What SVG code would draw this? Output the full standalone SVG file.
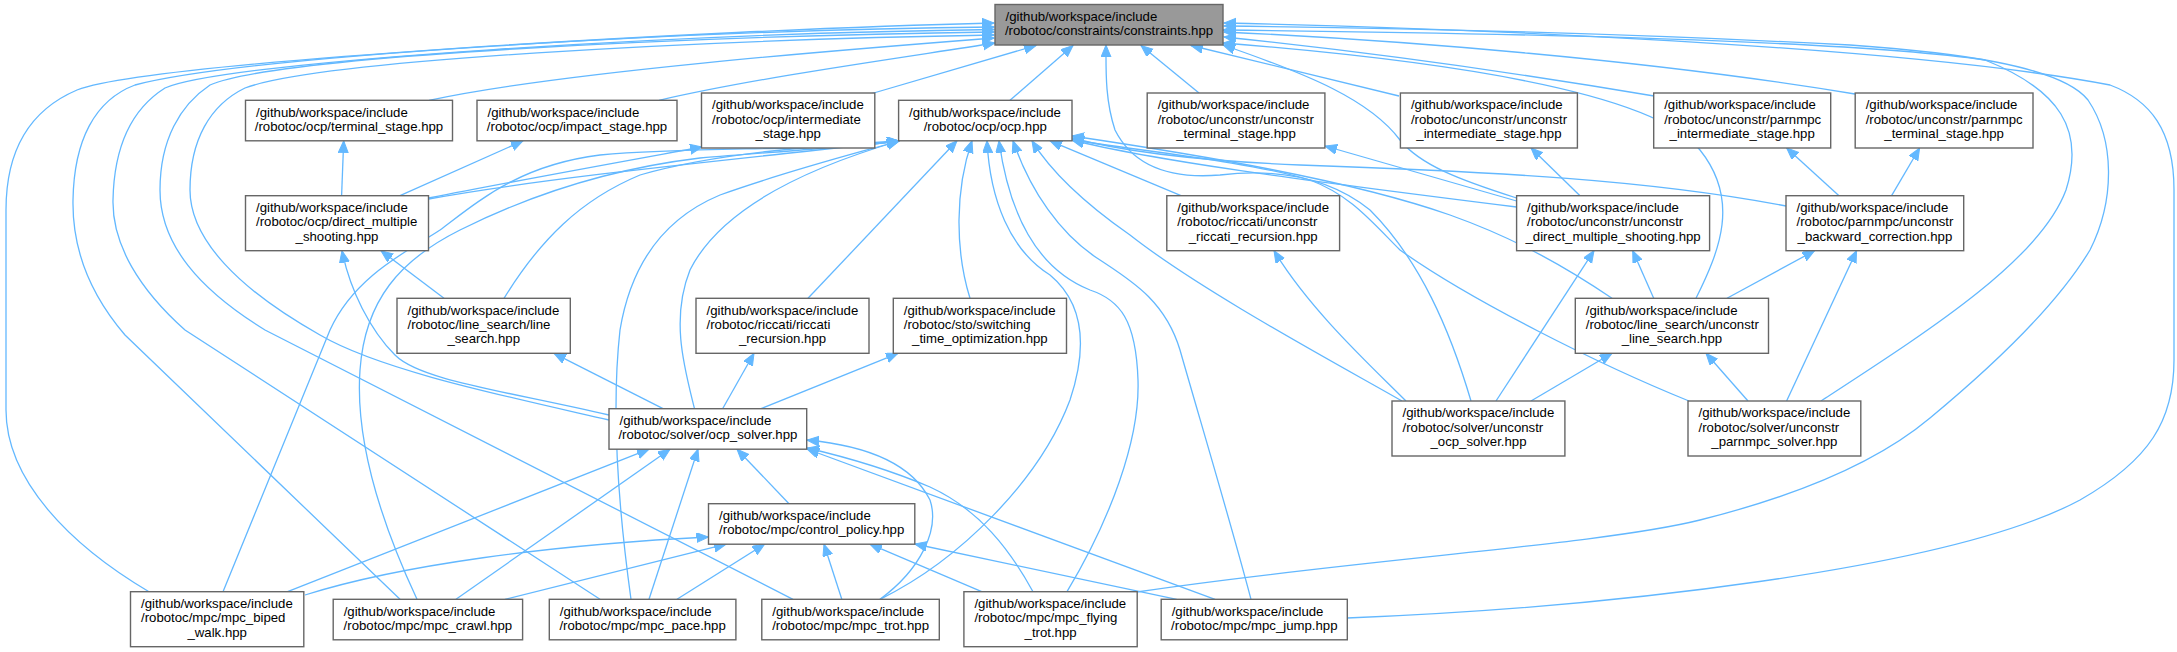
<svg xmlns="http://www.w3.org/2000/svg" width="2177" height="652" viewBox="0 0 2177 652">
<defs>
<marker id="a" markerUnits="userSpaceOnUse" markerWidth="14" markerHeight="12" refX="12" refY="5" orient="auto">
<path d="M0,0 L12,5 L0,10 Z" fill="#63b8ff" stroke="#63b8ff" stroke-width="1"/>
</marker>
<style>
.n rect{fill:#ffffff;stroke:#666666;stroke-width:1.4}
.r rect{fill:#999999;stroke:#666666;stroke-width:1.4}
text{font-family:"Liberation Sans",Arial,Helvetica,sans-serif;font-size:13.2px;fill:#000000}
.c{text-anchor:middle}
#edges path{fill:none;stroke:#63b8ff;stroke-width:1.3;marker-end:url(#a)}
</style>
</defs>
<rect width="2177" height="652" fill="#ffffff"/>
<g id="edges">
<path d="M429,100.3 C560,72 840,50 994,38"/>
<path d="M659,100.3 C760,77 900,58 995,43"/>
<path d="M872,93.5 L1036,45.5"/>
<path d="M1010,100.3 L1073,45.5"/>
<path d="M1199,93 L1141,45.5"/>
<path d="M1399,96 L1191,45.5"/>
<path d="M1654,96 C1500,70 1350,50 1224,37"/>
<path d="M1855,94 C1650,60 1400,40 1224,32"/>
<path d="M149,591.7 C70,545 6,480 6,410 L6,210 C6,150 30,110 77,90 C150,62 700,30 994,23"/>
<path d="M400,599.3 L125,335 C95,300 72,255 73,200 C74,140 95,100 135,85 C250,55 700,30 994,27"/>
<path d="M600,599.3 L185,330 C140,290 112,245 113,200 C114,150 130,110 165,88 C230,60 700,33 994,29.5"/>
<path d="M793,599.3 L265,330 C200,290 160,245 160,190 C160,140 180,105 210,85 C280,55 700,36 994,32"/>
<path d="M609,420 C500,395 380,370 320,335 C240,290 190,240 190,190 C190,140 210,105 245,88 C320,60 700,40 994,35"/>
<path d="M341.6,195.7 L343.7,140.8"/>
<path d="M400,195.7 L523,140.8"/>
<path d="M428.6,198 C520,180 620,162 702,147"/>
<path d="M428.6,199 C560,175 780,155 899,141"/>
<path d="M444,298.3 L381,250.7"/>
<path d="M504,298.3 C540,240 580,200 640,175 C720,152 820,146 899,141"/>
<path d="M808,298.3 L957,140.8"/>
<path d="M970,298.3 C955,250 955,190 972,140.8"/>
<path d="M609,415 C500,390 420,380 395,355 C370,330 350,290 342,250.7"/>
<path d="M663,408.7 L554,353.3"/>
<path d="M722.6,408.7 L754,353.3"/>
<path d="M761,408.7 L898,353.3"/>
<path d="M694.5,408.7 C685,370 670,320 690,270 C720,210 800,170 899,141"/>
<path d="M789,503.7 L737,449.2"/>
<path d="M287.6,591.7 L649,449.2"/>
<path d="M305,595 C400,565 550,545 708.5,537"/>
<path d="M223,591.7 L330,330 C355,275 410,250 440,230 C480,200 520,165 600,155 C700,146 820,152 899,141"/>
<path d="M417,599.3 C380,520 355,440 360,370 C365,300 400,260 460,230 C520,200 600,170 700,158 C800,150 860,146 899,141"/>
<path d="M456,599.3 L670,449.2"/>
<path d="M505,599.3 L726,544.2"/>
<path d="M631,599.3 C620,520 610,420 620,330 C630,270 660,220 720,195 C790,170 850,155 899,141"/>
<path d="M649,599.3 L698,449.2"/>
<path d="M677,599.3 L764.6,544.2"/>
<path d="M841.8,599.3 L824,544.2"/>
<path d="M880,599.3 C920,570 940,530 930,500 C910,460 860,445 807,440"/>
<path d="M880,599.3 C960,560 1040,480 1070,400 C1090,340 1080,300 1050,275 C1010,250 990,200 987,140.8"/>
<path d="M981.7,591.7 L870,544.2"/>
<path d="M1033,591.7 C1010,550 980,510 930,487 C890,470 850,458 807,448"/>
<path d="M1067,591.7 C1110,520 1140,440 1138,380 C1136,320 1120,300 1090,290 C1040,270 1010,220 999,140.8"/>
<path d="M1137,592 C1350,560 1600,545 1700,520 C1800,495 1880,460 1930,418 C2000,360 2060,300 2090,250 C2115,200 2115,140 2088,100 C2060,65 1950,52 1850,45 C1600,32 1400,28 1224,26"/>
<path d="M1176.7,599.3 L914.8,544"/>
<path d="M1215,599.3 L807,449"/>
<path d="M1251,599.3 C1230,520 1200,420 1180,350 C1165,300 1130,280 1100,260 C1060,235 1030,190 1013,140.8"/>
<path d="M1347,618 C1600,608 1950,570 2080,500 C2150,460 2174,420 2174,360 L2174,190 C2174,130 2150,100 2110,85 C1900,45 1450,28 1224,23"/>
<path d="M1516.6,201 L1325,146"/>
<path d="M1580,195.7 L1531,148"/>
<path d="M1516.6,198 C1460,180 1420,165 1400,140 C1370,100 1310,75 1223,45"/>
<path d="M1516.6,207 C1300,180 1150,160 1072,140"/>
<path d="M1839,195.7 L1786.6,148"/>
<path d="M1891.6,195.7 L1919.6,148"/>
<path d="M1786,206 C1650,180 1500,172 1300,165 C1180,160 1110,148 1072,138"/>
<path d="M1653.7,298.3 L1632.7,250.7"/>
<path d="M1727,298.3 L1814.6,250.7"/>
<path d="M1696,298.3 C1720,250 1740,200 1700,150 C1660,100 1500,65 1223,43"/>
<path d="M1612,298.3 C1570,270 1520,240 1450,215 C1350,180 1200,155 1072,136"/>
<path d="M1181,195.7 L1050,140.8"/>
<path d="M1402,401 C1330,360 1200,290 1130,235 C1080,200 1050,170 1032,140.8"/>
<path d="M1406,401 C1370,365 1310,310 1274,250.7"/>
<path d="M1471,401 C1450,330 1420,260 1370,210 C1330,178 1280,168 1220,175 C1160,180 1130,160 1115,130 C1105,100 1106,70 1106,45"/>
<path d="M1496,401 L1594,250.7"/>
<path d="M1531,401 L1612,353.3"/>
<path d="M1748,401 L1706,353.3"/>
<path d="M1786.6,401 L1856.6,250.7"/>
<path d="M1689,401 C1600,365 1470,300 1400,250 C1370,220 1350,195 1310,180 C1250,162 1150,152 1072,140"/>
<path d="M1821,401 C1930,330 2040,260 2066,190 C2085,130 2060,90 1985,60 C1850,40 1500,33 1223,30"/>
</g>
<g id="n_constraints" class="r"><rect x="995" y="4.5" width="228" height="40.5"/><text x="1005.5" y="20.8">/github/workspace/include</text><text class="c" x="1109" y="35.1">/robotoc/constraints/constraints.hpp</text></g>
<g id="n_terminal_stage" class="n"><rect x="245.5" y="100.3" width="207" height="40.5"/><text x="256" y="116.6">/github/workspace/include</text><text class="c" x="349" y="130.9">/robotoc/ocp/terminal_stage.hpp</text></g>
<g id="n_impact_stage" class="n"><rect x="477" y="100.3" width="200" height="40.5"/><text x="487.5" y="116.6">/github/workspace/include</text><text class="c" x="577" y="130.9">/robotoc/ocp/impact_stage.hpp</text></g>
<g id="n_intermediate_stage" class="n"><rect x="701.5" y="93" width="173.3" height="55"/><text x="712" y="109.4">/github/workspace/include</text><text x="712" y="123.7">/robotoc/ocp/intermediate</text><text class="c" x="788.2" y="138">_stage.hpp</text></g>
<g id="n_ocp" class="n"><rect x="898.6" y="100.3" width="173.4" height="40.5"/><text x="909.1" y="116.6">/github/workspace/include</text><text class="c" x="985.3" y="130.9">/robotoc/ocp/ocp.hpp</text></g>
<g id="n_unconstr_terminal_stage" class="n"><rect x="1147.2" y="93" width="177.7" height="55"/><text x="1157.7" y="109.4">/github/workspace/include</text><text x="1157.7" y="123.7">/robotoc/unconstr/unconstr</text><text class="c" x="1236" y="138">_terminal_stage.hpp</text></g>
<g id="n_unconstr_intermediate_stage" class="n"><rect x="1400.4" y="93" width="177" height="55"/><text x="1410.9" y="109.4">/github/workspace/include</text><text x="1410.9" y="123.7">/robotoc/unconstr/unconstr</text><text class="c" x="1488.9" y="138">_intermediate_stage.hpp</text></g>
<g id="n_parnmpc_intermediate_stage" class="n"><rect x="1653.7" y="93" width="177" height="55"/><text x="1664.2" y="109.4">/github/workspace/include</text><text x="1664.2" y="123.7">/robotoc/unconstr/parnmpc</text><text class="c" x="1742.2" y="138">_intermediate_stage.hpp</text></g>
<g id="n_parnmpc_terminal_stage" class="n"><rect x="1855.2" y="93" width="177.8" height="55"/><text x="1865.7" y="109.4">/github/workspace/include</text><text x="1865.7" y="123.7">/robotoc/unconstr/parnmpc</text><text class="c" x="1944.1" y="138">_terminal_stage.hpp</text></g>
<g id="n_direct_multiple_shooting" class="n"><rect x="245.5" y="195.7" width="183" height="55"/><text x="256" y="212.1">/github/workspace/include</text><text x="256" y="226.4">/robotoc/ocp/direct_multiple</text><text class="c" x="337" y="240.7">_shooting.hpp</text></g>
<g id="n_unconstr_riccati_recursion" class="n"><rect x="1166.8" y="195.7" width="172.8" height="55"/><text x="1177.3" y="212.1">/github/workspace/include</text><text x="1177.3" y="226.4">/robotoc/riccati/unconstr</text><text class="c" x="1253.2" y="240.7">_riccati_recursion.hpp</text></g>
<g id="n_unconstr_direct_multiple_shooting" class="n"><rect x="1516.6" y="195.7" width="193" height="55"/><text x="1527.1" y="212.1">/github/workspace/include</text><text x="1527.1" y="226.4">/robotoc/unconstr/unconstr</text><text class="c" x="1613.1" y="240.7">_direct_multiple_shooting.hpp</text></g>
<g id="n_backward_correction" class="n"><rect x="1786" y="195.7" width="177.7" height="55"/><text x="1796.5" y="212.1">/github/workspace/include</text><text x="1796.5" y="226.4">/robotoc/parnmpc/unconstr</text><text class="c" x="1874.9" y="240.7">_backward_correction.hpp</text></g>
<g id="n_line_search" class="n"><rect x="397" y="298.3" width="173.3" height="55"/><text x="407.5" y="314.7">/github/workspace/include</text><text x="407.5" y="329">/robotoc/line_search/line</text><text class="c" x="483.7" y="343.3">_search.hpp</text></g>
<g id="n_riccati_recursion" class="n"><rect x="696" y="298.3" width="173" height="55"/><text x="706.5" y="314.7">/github/workspace/include</text><text x="706.5" y="329">/robotoc/riccati/riccati</text><text class="c" x="782.5" y="343.3">_recursion.hpp</text></g>
<g id="n_switching_time_optimization" class="n"><rect x="893.3" y="298.3" width="173.2" height="55"/><text x="903.8" y="314.7">/github/workspace/include</text><text x="903.8" y="329">/robotoc/sto/switching</text><text class="c" x="979.9" y="343.3">_time_optimization.hpp</text></g>
<g id="n_unconstr_line_search" class="n"><rect x="1575.3" y="298.3" width="193.2" height="55"/><text x="1585.8" y="314.7">/github/workspace/include</text><text x="1585.8" y="329">/robotoc/line_search/unconstr</text><text class="c" x="1671.9" y="343.3">_line_search.hpp</text></g>
<g id="n_ocp_solver" class="n"><rect x="609" y="408.7" width="197.7" height="40.5"/><text x="619.5" y="425">/github/workspace/include</text><text class="c" x="707.9" y="439.3">/robotoc/solver/ocp_solver.hpp</text></g>
<g id="n_unconstr_ocp_solver" class="n"><rect x="1392" y="401" width="172.9" height="55"/><text x="1402.5" y="417.4">/github/workspace/include</text><text x="1402.5" y="431.7">/robotoc/solver/unconstr</text><text class="c" x="1478.5" y="446">_ocp_solver.hpp</text></g>
<g id="n_unconstr_parnmpc_solver" class="n"><rect x="1688" y="401" width="172.8" height="55"/><text x="1698.5" y="417.4">/github/workspace/include</text><text x="1698.5" y="431.7">/robotoc/solver/unconstr</text><text class="c" x="1774.4" y="446">_parnmpc_solver.hpp</text></g>
<g id="n_control_policy" class="n"><rect x="708.5" y="503.7" width="206.3" height="40.5"/><text x="719" y="520">/github/workspace/include</text><text class="c" x="811.7" y="534.3">/robotoc/mpc/control_policy.hpp</text></g>
<g id="n_mpc_biped_walk" class="n"><rect x="130.5" y="591.7" width="173.3" height="55"/><text x="141" y="608.1">/github/workspace/include</text><text x="141" y="622.4">/robotoc/mpc/mpc_biped</text><text class="c" x="217.2" y="636.7">_walk.hpp</text></g>
<g id="n_mpc_crawl" class="n"><rect x="333.2" y="599.3" width="189.4" height="40.5"/><text x="343.7" y="615.6">/github/workspace/include</text><text class="c" x="427.9" y="629.9">/robotoc/mpc/mpc_crawl.hpp</text></g>
<g id="n_mpc_pace" class="n"><rect x="549.3" y="599.3" width="186.6" height="40.5"/><text x="559.8" y="615.6">/github/workspace/include</text><text class="c" x="642.6" y="629.9">/robotoc/mpc/mpc_pace.hpp</text></g>
<g id="n_mpc_trot" class="n"><rect x="761.8" y="599.3" width="177.5" height="40.5"/><text x="772.3" y="615.6">/github/workspace/include</text><text class="c" x="850.6" y="629.9">/robotoc/mpc/mpc_trot.hpp</text></g>
<g id="n_mpc_flying_trot" class="n"><rect x="963.9" y="591.7" width="173.3" height="55"/><text x="974.4" y="608.1">/github/workspace/include</text><text x="974.4" y="622.4">/robotoc/mpc/mpc_flying</text><text class="c" x="1050.6" y="636.7">_trot.hpp</text></g>
<g id="n_mpc_jump" class="n"><rect x="1161.2" y="599.3" width="186.1" height="40.5"/><text x="1171.7" y="615.6">/github/workspace/include</text><text class="c" x="1254.3" y="629.9">/robotoc/mpc/mpc_jump.hpp</text></g>
</svg>
